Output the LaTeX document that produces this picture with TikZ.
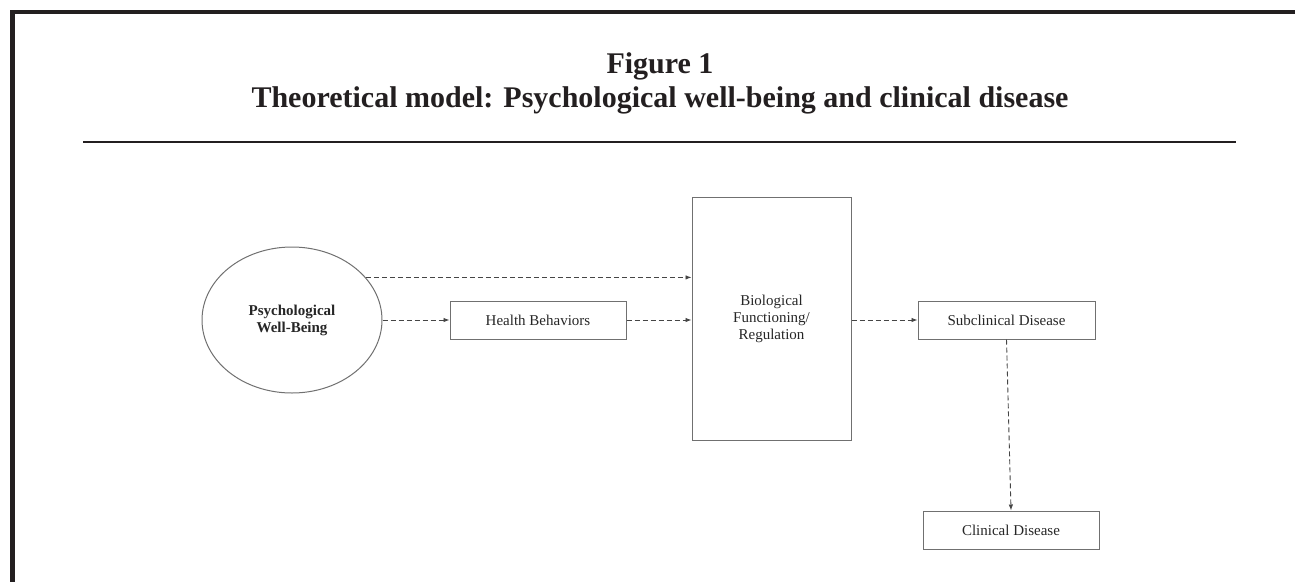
\documentclass[tikz,border=0pt]{standalone}
\usepackage{fontspec}
\setmainfont{Liberation Serif}
\usetikzlibrary{arrows.meta,shapes.geometric}
\definecolor{ink}{HTML}{231F20}
\definecolor{boxline}{HTML}{707070}
\definecolor{dashline}{HTML}{454545}

\begin{document}
\begin{tikzpicture}[x=1pt,y=-1pt,
  title/.style = {font=\fontsize{30}{34}\selectfont\bfseries, text=ink, inner sep=0pt, anchor=base},
  boxnode/.style = {draw=boxline, line width=1pt, inner sep=0pt, text=black!85,
    font=\fontsize{15}{17}\selectfont, align=center},
  flow/.style = {draw=dashline, line width=0.9pt, dash pattern=on 5pt off 3pt,
    -{Latex[length=6pt,width=4.5pt]}}]
\useasboundingbox (0,0) rectangle (1295,582);
% frame and rule
\draw[ink, line width=4.5pt] (10,12) -- (1295,12);
\draw[ink, line width=5pt] (12.5,10) -- (12.5,582);
\draw[ink, line width=2pt] (83,141.5) -- (1236,141.5);
% heading
\node[title] (fig) at (660,73) {Figure 1};
\node[title] (caption) at (660,107) {Theoretical model: Psychological well-being and clinical disease};
% model
\node[boxnode, ellipse, minimum width=180pt, minimum height=146pt,
  font=\fontsize{15}{17}\selectfont\bfseries] (wb) at (292,320) {Psychological\\Well-Being};
\node[boxnode, minimum width=176pt, minimum height=38pt] (hb) at (538,320) {Health Behaviors};
\node[boxnode, minimum width=159pt, minimum height=243pt] (bio) at (771.5,318.5) {Biological\\Functioning/\\Regulation};
\node[boxnode, minimum width=177pt, minimum height=38pt] (sub) at (1006.5,320) {Subclinical Disease};
\node[boxnode, minimum width=176pt, minimum height=38pt] (clin) at (1011,530) {Clinical Disease};
% paths
\draw[flow] (wb.30) -- (wb.30 -| bio.west);
\draw[flow] (wb.east) -- (hb.west);
\draw[flow] (hb.east) -- (hb.east -| bio.west);
\draw[flow] (bio.east |- sub.west) -- (sub.west);
\draw[flow] (sub.south) -- (clin.north);
\end{tikzpicture}
\end{document}
